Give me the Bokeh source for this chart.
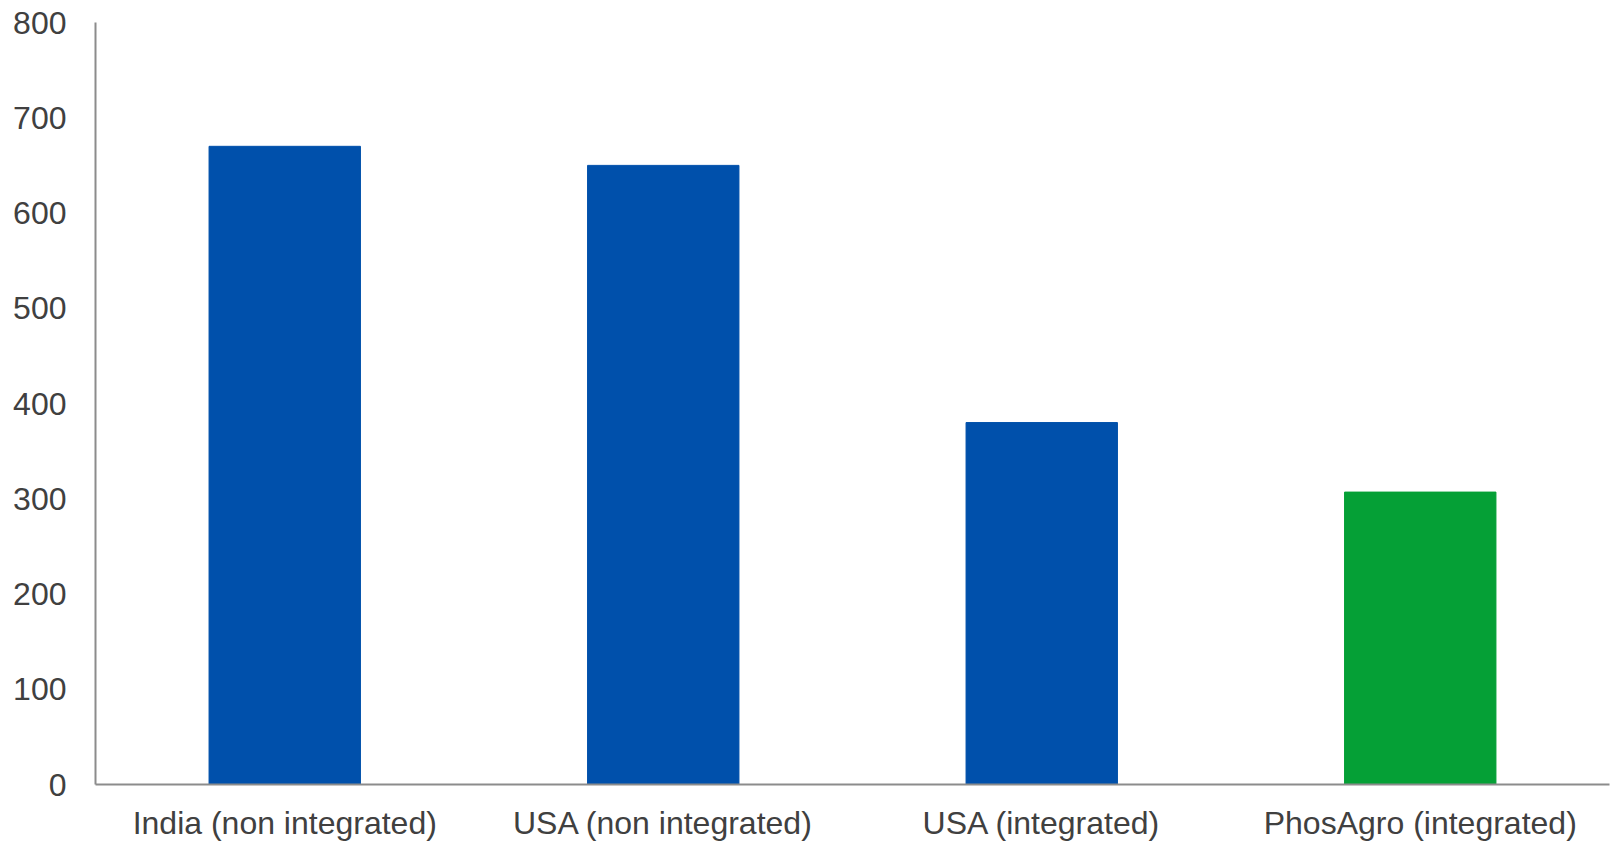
from bokeh.plotting import figure
from bokeh.models import ColumnDataSource, FactorRange, Range1d, FixedTicker
from bokeh.embed import file_html
from bokeh.resources import INLINE

categories = ["India (non integrated)", "USA (non integrated)", "USA (integrated)", "PhosAgro (integrated)"]
values = [670, 650, 380, 307]
colors = ["#0050AB", "#0050AB", "#0050AB", "#05A036"]
y_ticks = [0, 100, 200, 300, 400, 500, 600, 700, 800]

source = ColumnDataSource(dict(cat=categories, val=values, color=colors))

p = figure(
    x_range=FactorRange(*categories, range_padding=0),
    y_range=Range1d(0, 800),
    width=1612, height=844,
    output_backend="svg", toolbar_location=None,
    min_border_left=95, min_border_right=3, min_border_top=22, min_border_bottom=60,
)
p.vbar(x="cat", top="val", width=0.4, color="color", source=source)

p.xgrid.grid_line_color = None
p.ygrid.grid_line_color = None
p.outline_line_color = None

axis_color = "#8c8c8c"
text_color = "#404040"
for ax in (p.xaxis, p.yaxis):
    ax.axis_line_color = axis_color
    ax.axis_line_width = 2
    ax.major_tick_line_color = None
    ax.minor_tick_line_color = None
    ax.major_label_text_font = "Liberation Sans"
    ax.major_label_text_font_size = "32px"
    ax.major_label_text_color = text_color

p.yaxis.ticker = FixedTicker(ticks=y_ticks)
p.yaxis.major_label_standoff = 23
p.xaxis.major_label_standoff = 14

open("out.html", "w").write(file_html(p, INLINE))
